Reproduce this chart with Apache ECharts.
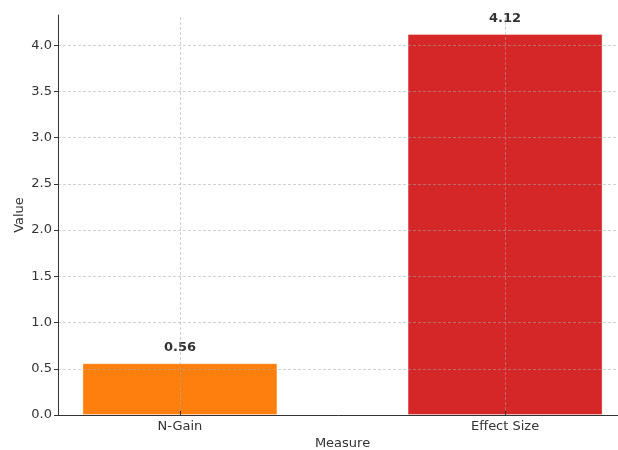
<!DOCTYPE html>
<html>
<head>
<meta charset="utf-8">
<script src="https://cdn.jsdelivr.net/npm/echarts@6/dist/echarts.min.js"></script>
<style>html,body{margin:0;padding:0;background:#fff;overflow:hidden;width:618px;height:450px}#c{position:absolute;left:0;top:0;width:618px;height:450px}</style>
</head>
<body>
<div id="c"></div>
<script>
var categories = ["N-Gain", "Effect Size"];
var values = [0.56, 4.12];
var colors = ["#ff7f0e", "#d62728"];
var yTicks = [0, 0.5, 1.0, 1.5, 2.0, 2.5, 3.0, 3.5, 4.0];

var chart = echarts.init(document.getElementById('c'), null, {renderer: 'canvas', width: 618, height: 450});
var font = 'DejaVu Sans';
var gridColor = 'rgba(170,170,170,0.65)';
chart.setOption({
  animation: false,
  backgroundColor: '#fff',
  grid: {left: 58, right: -9, top: 15, bottom: 35, containLabel: false, outerBoundsMode: 'none'},
  xAxis: {
    type: 'value', min: -0.375, max: 1.375, z: 5,
    name: 'Measure', nameLocation: 'middle', nameGap: 22, nameMoveOverlap: false,
    nameTextStyle: {fontFamily: font, fontSize: 13, color: '#333'},
    axisLine: {show: true, onZero: false, lineStyle: {color: '#333', width: 1}},
    axisTick: {show: true, inside: true, length: 4, customValues: [0, 1], lineStyle: {color: '#333'}},
    axisLabel: {customValues: [0, 1], fontFamily: font, fontSize: 13, color: '#333', margin: 5,
      formatter: function (v) { return categories[Math.round(v)] || ''; }},
    splitLine: {show: false}
  },
  yAxis: {
    type: 'value', min: 0, max: 4.326, z: 5,
    name: 'Value', nameLocation: 'middle', nameGap: 38, nameRotate: 90, nameMoveOverlap: false,
    nameTextStyle: {fontFamily: font, fontSize: 13, color: '#333', verticalAlign: 'middle'},
    axisLine: {show: true, onZero: false, lineStyle: {color: '#333', width: 1}},
    axisTick: {show: true, length: 4, customValues: yTicks, lineStyle: {color: '#333'}},
    axisLabel: {customValues: yTicks, fontFamily: font, fontSize: 13, color: '#333', margin: 6,
      formatter: function (v) { return v.toFixed(1); }},
    splitLine: {show: false}
  },
  series: [
    {
      type: 'bar', barWidth: 195, z: 2,
      data: values.map(function (v, i) {
        return {value: [i, v], itemStyle: {color: colors[i], borderColor: 'rgba(255,255,255,0.35)', borderWidth: 1}};
      }),
      label: {show: true, position: 'top', distance: 9, fontFamily: font, fontSize: 13, fontWeight: 'bold', color: '#333',
        formatter: function (p) { return p.value[1].toFixed(2); }},
      markLine: {
        silent: true, symbol: 'none', z: 4, label: {show: false},
        lineStyle: {color: gridColor, type: [3, 2], width: 0.8},
        data: yTicks.slice(1).map(function (t) { return {yAxis: t}; })
          .concat([0, 1].map(function (x) { return {xAxis: x}; }))
      }
    }
  ]
});
</script>
</body>
</html>
